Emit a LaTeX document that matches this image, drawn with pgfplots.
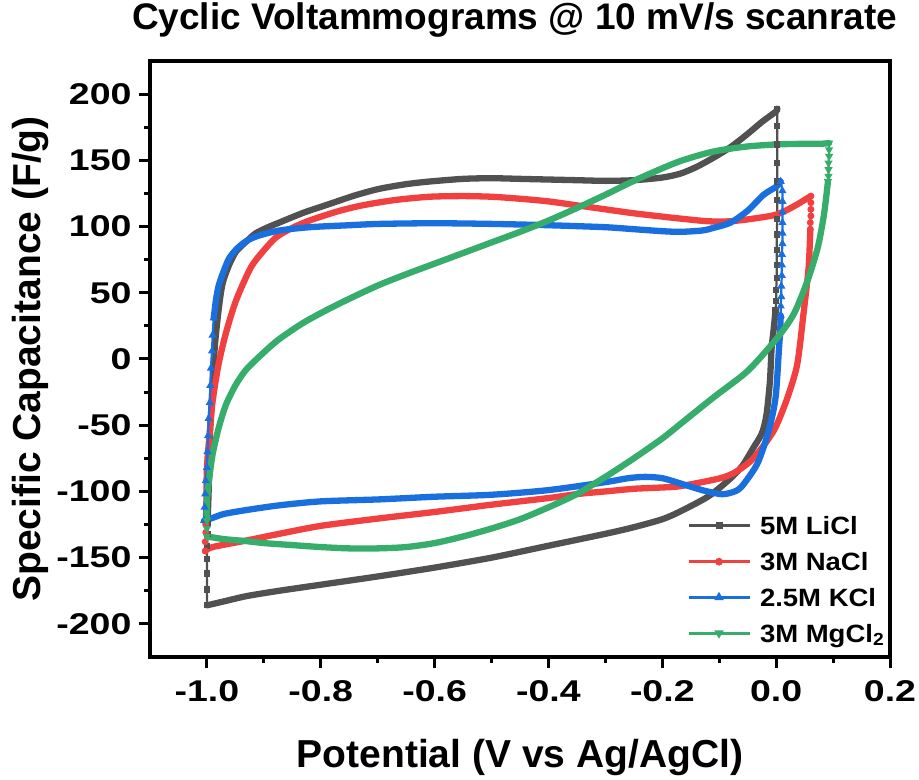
\documentclass[border=0pt]{standalone}
\usepackage{fontspec}
\setmainfont{Liberation Sans}
\usepackage{graphicx}
\usepackage{pgfplots}
\pgfplotsset{compat=1.18}
\usetikzlibrary{calc}

\definecolor{cLi}{HTML}{515151}
\definecolor{cNa}{HTML}{F14040}
\definecolor{cK}{HTML}{1A6FDF}
\definecolor{cMg}{HTML}{37AD6B}

\pgfplotsset{
  band/.style={line width=6.3pt, line join=round, line cap=round, smooth, tension=0.45, forget plot},
  jump/.style={line width=2.2pt, mark size=2.2pt},
}

\begin{document}
\begin{tikzpicture}
\begin{axis}[
  name=ax,
  width=740pt, height=596pt, scale only axis,
  xmin=-1.1, xmax=0.2, ymin=-225, ymax=225,
  xtick={-1.0,-0.8,...,0.2}, minor x tick num=1,
  ytick={-200,-150,...,200}, minor y tick num=1,
  tick pos=left, tick align=outside,
  major tick length=11pt, minor tick length=6pt,
  every tick/.style={line width=3pt, black},
  axis line style={line width=3.5pt, line join=miter},
  /pgf/number format/assume math mode=true,
  tick label style={font=\fontsize{30}{30}\selectfont\bfseries},
  xticklabel style={yshift=-9pt},
  yticklabel style={xshift=-4pt},
  xticklabel={\scalebox{1.25}[1]{\pgfmathprintnumber[fixed,fixed zerofill,precision=1]{\tick}}},
  yticklabel={\scalebox{1.25}[1]{\pgfmathprintnumber[fixed,precision=0]{\tick}}},
  title={Cyclic Voltammograms @ 10 mV/s scanrate},
  title style={font=\fontsize{37}{37}\selectfont\bfseries, at={(axis description cs:0.493,1.0436)}, anchor=base},
  xlabel={Potential (V vs Ag/AgCl)},
  xlabel style={font=\fontsize{39}{39}\selectfont\bfseries, at={(axis description cs:0.5,-0.1862)}, anchor=base},
  ylabel={Specific Capacitance (F/g)},
  ylabel style={font=\fontsize{39}{39}\selectfont\bfseries, at={(axis description cs:-0.162,0.5)}, anchor=center},
  legend style={draw=none, fill=none, inner sep=0pt, outer sep=0pt,
    at={(axis description cs:0.7257,0.2349)}, anchor=north west,
    row sep=17.7pt, column sep=9pt,
    nodes={inner sep=0pt, text height=18pt, text depth=0pt,
      font=\fontsize{25}{25}\selectfont\bfseries}},
  legend cell align=left,
  legend image code/.code={\draw[mark repeat=2, mark phase=2, line width=3pt, #1]
    plot coordinates {(0pt,0pt) (30.5pt,0pt) (61pt,0pt)};},
]

% ---------------- 5M LiCl ----------------
\addplot[cLi, jump, mark=square*, mark size=2pt] coordinates {
  (-1.0,-186) (-1.0,-174) (-1.0,-162) (-1.0,-151) (-1.0,-141) (-0.999,-132) (-0.999,-124)};
\addlegendentry{\scalebox{1.1}[1]{5M LiCl}}
\addplot[cLi, jump, mark=square*, mark size=2pt, forget plot] coordinates {
  (0.002,189) (0.002,176) (0.002,162) (0.002,148) (0.002,134) (0.002,120) (0.002,106)
  (0.001,94) (0.001,82) (0.001,71) (0.001,61) (0.0,52) (0.0,44) (-0.001,37)};
\addplot[cLi, band] coordinates {
  (-0.999,-124) (-0.997,-100) (-0.995,-60) (-0.99,-20) (-0.986,10) (-0.98,35)
  (-0.973,56) (-0.962,70) (-0.949,81) (-0.93,89) (-0.914,95) (-0.89,100)
  (-0.873,103) (-0.83,110.5) (-0.785,117) (-0.74,123.5) (-0.697,128.5) (-0.65,132)
  (-0.609,134) (-0.55,136) (-0.5,136.5) (-0.45,136) (-0.4,135.5) (-0.35,135)
  (-0.3,134.5) (-0.25,135) (-0.2,137) (-0.168,140) (-0.14,145) (-0.11,152)
  (-0.08,160) (-0.05,170) (-0.025,179) (0.0,187) (0.002,189)};
\addplot[cLi, band] coordinates {
  (-0.001,37) (-0.005,20) (-0.008,8) (-0.011,-17) (-0.017,-42) (-0.025,-56)
  (-0.04,-67) (-0.06,-81) (-0.085,-92) (-0.12,-104) (-0.168,-115) (-0.2,-121)
  (-0.25,-127) (-0.3,-132) (-0.4,-141) (-0.5,-150) (-0.6,-157.5) (-0.697,-164)
  (-0.785,-169.5) (-0.873,-175) (-0.93,-179) (-0.97,-183) (-1.0,-186)};

% ---------------- 3M NaCl ----------------
\addplot[cNa, jump, mark=*, mark size=2.3pt] coordinates {
  (-1.003,-145) (-1.003,-138) (-1.002,-131) (-1.002,-125)};
\addlegendentry{\scalebox{1.1}[1]{3M NaCl}}
\addplot[cNa, jump, mark=*, mark size=2.3pt, forget plot] coordinates {
  (0.061,123) (0.061,118) (0.061,113) (0.061,108) (0.060,103) (0.060,98)};
\addplot[cNa, band] coordinates {
  (-1.002,-125) (-1.001,-110) (-1.0,-82) (-0.995,-55) (-0.99,-32) (-0.98,-5)
  (-0.967,19) (-0.949,44) (-0.923,69) (-0.9,82) (-0.878,92) (-0.85,99)
  (-0.82,104.5) (-0.77,111.5) (-0.727,116) (-0.67,120) (-0.609,122.5) (-0.55,123)
  (-0.5,122.5) (-0.45,121) (-0.4,119) (-0.35,116) (-0.3,113) (-0.25,110)
  (-0.2,107.5) (-0.168,106) (-0.12,104) (-0.08,104) (-0.04,106) (0.0,109)
  (0.03,115) (0.061,123)};
\addplot[cNa, band] coordinates {
  (0.060,98) (0.057,69) (0.048,34) (0.037,-4) (0.02,-29) (-0.004,-54)
  (-0.04,-75) (-0.07,-85) (-0.098,-90) (-0.168,-96) (-0.2,-97) (-0.25,-98)
  (-0.3,-100) (-0.35,-102) (-0.4,-105) (-0.5,-110) (-0.6,-115.5) (-0.7,-120.5)
  (-0.8,-126) (-0.873,-132) (-0.93,-137) (-0.99,-142) (-1.003,-145)};

% ---------------- 2.5M KCl ----------------
\addplot[cK, jump, mark=triangle*, mark size=2.6pt] coordinates {
  (-1.005,-122) (-1.004,-112) (-1.003,-102) (-1.002,-92) (-1.0,-82) (-0.999,-70)
  (-0.998,-58) (-0.997,-45) (-0.995,-33) (-0.994,-20) (-0.993,-7) (-0.991,6)
  (-0.99,18) (-0.988,31)};
\addlegendentry{\scalebox{1.1}[1]{2.5M KCl}}
\addplot[cK, jump, mark=triangle*, mark size=2.6pt, forget plot] coordinates {
  (0.008,134) (0.011,127) (0.011,119) (0.011,111) (0.011,103) (0.011,95)
  (0.011,87) (0.010,79) (0.010,71) (0.010,63) (0.009,55) (0.009,47)
  (0.008,40) (0.008,33)};
\addplot[cK, band] coordinates {
  (-0.988,31) (-0.984,45) (-0.979,56) (-0.97,67) (-0.961,76) (-0.948,83)
  (-0.931,89) (-0.91,93) (-0.873,97) (-0.82,99.5) (-0.75,101) (-0.697,102)
  (-0.6,102.5) (-0.5,102) (-0.4,101) (-0.3,99.5) (-0.25,98) (-0.2,96.5)
  (-0.168,96) (-0.13,97) (-0.11,99) (-0.08,103) (-0.05,112) (-0.022,124)
  (0.0,130) (0.008,134)};
\addplot[cK, band] coordinates {
  (0.008,33) (0.007,20) (0.005,8) (-0.001,-29) (-0.013,-54) (-0.033,-79)
  (-0.062,-97) (-0.08,-101) (-0.098,-102) (-0.13,-99) (-0.168,-94) (-0.2,-90)
  (-0.23,-89) (-0.26,-90) (-0.3,-93) (-0.4,-99) (-0.5,-102.5) (-0.6,-104)
  (-0.697,-106) (-0.8,-107.5) (-0.873,-110.5) (-0.93,-114) (-0.97,-117)
  (-0.99,-120) (-1.005,-122)};

% ---------------- 3M MgCl2 ----------------
\addplot[cMg, jump, mark=triangle*, mark options={rotate=180}, mark size=2.6pt] coordinates {
  (-1.0,-134) (-1.0,-128) (-1.0,-122)};
\addlegendentry{\scalebox{1.1}[1]{3M MgCl\textsubscript{2}}}
\addplot[cMg, jump, mark=triangle*, mark options={rotate=180}, mark size=2.6pt, forget plot] coordinates {
  (0.093,163) (0.093,158) (0.093,153) (0.092,148) (0.092,143) (0.092,138) (0.091,134)};
\addplot[cMg, band] coordinates {
  (-1.0,-122) (-1.0,-107) (-0.995,-87) (-0.99,-72) (-0.98,-53) (-0.967,-35)
  (-0.95,-20) (-0.931,-8) (-0.9,5) (-0.873,15) (-0.83,27.5) (-0.785,38)
  (-0.74,47.5) (-0.697,56) (-0.65,64) (-0.6,72) (-0.55,80) (-0.5,88)
  (-0.45,96) (-0.4,104.5) (-0.35,114) (-0.3,124) (-0.25,134.5) (-0.2,144)
  (-0.168,149.5) (-0.13,154.5) (-0.1,157.5) (-0.05,160.5) (0.0,162) (0.05,162.5)
  (0.08,162.5) (0.093,163)};
\addplot[cMg, band] coordinates {
  (0.091,134) (0.084,109) (0.073,84) (0.055,59) (0.031,34) (0.002,16)
  (-0.05,-9) (-0.11,-29) (-0.168,-49) (-0.2,-60) (-0.25,-75) (-0.3,-89)
  (-0.35,-102) (-0.4,-112) (-0.45,-121) (-0.5,-128) (-0.55,-134) (-0.6,-139)
  (-0.65,-142) (-0.7,-143) (-0.75,-143) (-0.8,-142) (-0.85,-140.5) (-0.9,-139)
  (-0.931,-137.5) (-0.97,-136) (-1.0,-134)};
\end{axis}
\pgfresetboundingbox
\path[use as bounding box] ($(ax.south west)+(-150pt,-123pt)$) rectangle ($(ax.north east)+(29pt,61pt)$);
\end{tikzpicture}
\end{document}
